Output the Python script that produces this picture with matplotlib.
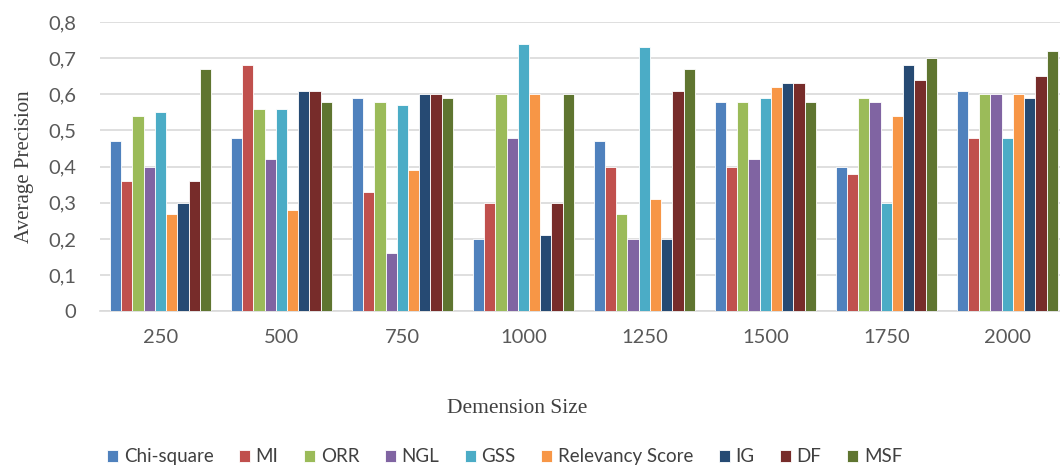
import matplotlib
matplotlib.use("Agg")
import matplotlib.pyplot as plt
import numpy as np

# dimension sizes on the x axis
sizes = ["250", "500", "750", "1000", "1250", "1500", "1750", "2000"]

chi_square = [0.47, 0.48, 0.59, 0.20, 0.47, 0.58, 0.40, 0.61]
mi = [0.36, 0.68, 0.33, 0.30, 0.40, 0.40, 0.38, 0.48]
orr = [0.54, 0.56, 0.58, 0.60, 0.27, 0.58, 0.59, 0.60]
ngl = [0.40, 0.42, 0.16, 0.48, 0.20, 0.42, 0.58, 0.60]
gss = [0.55, 0.56, 0.57, 0.74, 0.73, 0.59, 0.30, 0.48]
relevancy = [0.27, 0.28, 0.39, 0.60, 0.31, 0.62, 0.54, 0.60]
ig = [0.30, 0.61, 0.60, 0.21, 0.20, 0.63, 0.68, 0.59]
df = [0.36, 0.61, 0.60, 0.30, 0.61, 0.63, 0.64, 0.65]
msf = [0.67, 0.58, 0.59, 0.60, 0.67, 0.58, 0.70, 0.72]

names = ["Chi-square", "MI", "ORR", "NGL", "GSS", "Relevancy Score", "IG", "DF", "MSF"]
series = [chi_square, mi, orr, ngl, gss, relevancy, ig, df, msf]
colors = ["#4F81BD", "#C0504D", "#9BBB59", "#8064A2", "#4BACC6",
          "#F79646", "#264A73", "#772C2A", "#5F7530"]

fig = plt.figure(figsize=(10.6, 4.68), dpi=100)
ax = fig.add_axes([0.0943, 0.335, 0.913, 0.618])

x = np.arange(len(sizes))
slot = 0.835 / len(series)
for i, (vals, c, n) in enumerate(zip(series, colors, names)):
    off = (i - (len(series) - 1) / 2) * slot
    ax.bar(x + off, vals, width=slot, color=c, edgecolor="white",
           linewidth=0.6, label=n, zorder=3)

ax.set_xlim(-0.5, len(sizes) - 0.5)
ax.set_ylim(0, 0.8)
yt = np.arange(0, 0.81, 0.1)
ax.set_yticks(yt)
ax.set_yticklabels(["0"] + [("%.1f" % v).replace(".", ",") for v in yt[1:]])
ax.set_xticks(x)
ax.set_xticklabels(sizes)
ax.tick_params(length=0, labelsize=14.5, labelcolor="#595959", pad=13)
ax.tick_params(axis="y", pad=17)
for lab in ax.get_xticklabels() + ax.get_yticklabels():
    lab.set_family("Lato")
ax.yaxis.grid(True, color="#D9D9D9", linewidth=1.2, zorder=0)
for s in ["top", "right", "left"]:
    ax.spines[s].set_visible(False)
ax.spines["bottom"].set_color("#D9D9D9")
ax.spines["bottom"].set_linewidth(1.2)

ax.set_ylabel("Average Precision", family="Liberation Serif", fontsize=15,
              color="#404040", labelpad=10)
fig.text(0.488, 0.128, "Demension Size", family="Liberation Serif",
         fontsize=15.5, color="#404040", ha="center", va="center")

fig.legend(loc="center", bbox_to_anchor=(0.476, 0.024), ncol=9, frameon=False,
           prop={"family": "Lato", "size": 13.5}, handlelength=0.6,
           handleheight=0.6, handletextpad=0.3, columnspacing=1.35,
           labelcolor="#404040", borderpad=0.1)

fig.savefig("out.png", dpi=100)
